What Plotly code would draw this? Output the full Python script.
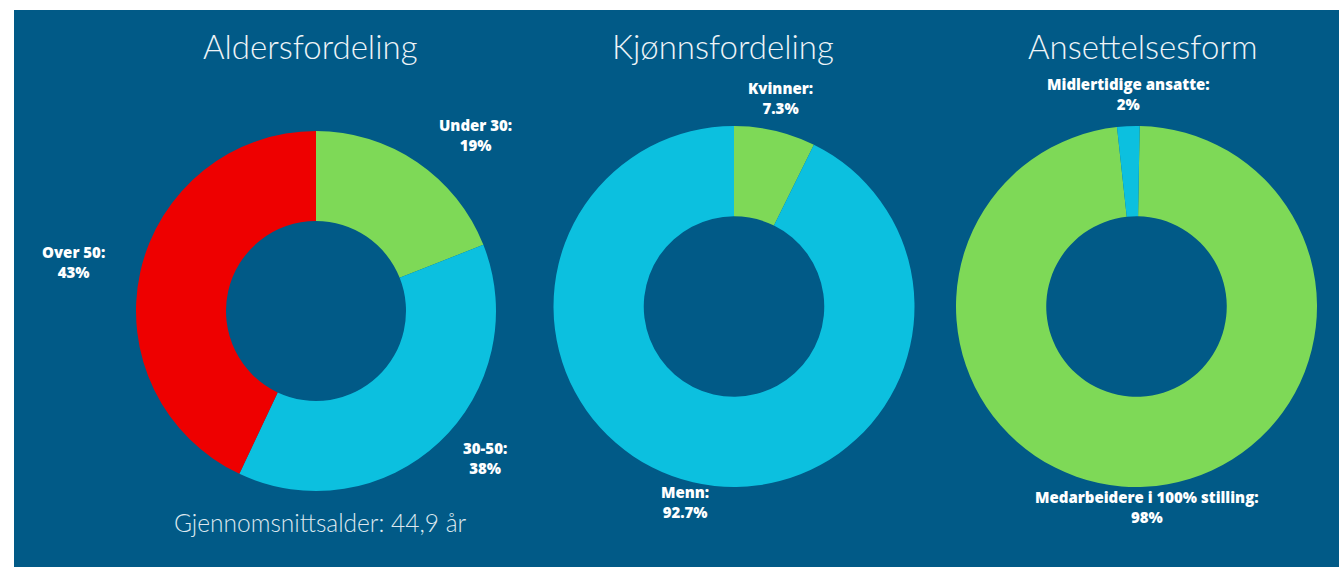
import plotly.graph_objects as go

W, H = 1339, 567

titles = ["Aldersfordeling", "Kjønnsfordeling", "Ansettelsesform"]

age_labels = ["Under 30", "30-50", "Over 50"]
age_values = [19, 38, 43]
age_colors = ["#7ed957", "#0cc0df", "#ee0000"]

gender_labels = ["Kvinner", "Menn"]
gender_values = [7.3, 92.7]
gender_colors = ["#7ed957", "#0cc0df"]

emp_labels = ["Medarbeidere i 100% stilling", "Midlertidige ansatte"]
emp_values = [98, 2]
emp_colors = ["#7ed957", "#0cc0df"]

avg_age_text = "Gjennomsnittsalder: 44,9 år"

BG = "#015a87"
TXT = "#ffffff"

def px_dom(cx, cy, r):
    return dict(x=[(cx - r) / W, (cx + r) / W], y=[1 - (cy + r) / H, 1 - (cy - r) / H])

fig = go.Figure()
pies = [
    (age_labels, age_values, age_colors, px_dom(316, 311, 180), 0),
    (gender_labels, gender_values, gender_colors, px_dom(734, 306.5, 180.5), 0),
    (emp_labels, emp_values, emp_colors, px_dom(1136.5, 306.5, 180.5), 1),
]
for labels, values, colors, dom, rot in pies:
    fig.add_trace(go.Pie(
        labels=labels, values=values, hole=0.5, sort=False, direction="clockwise",
        rotation=rot, marker=dict(colors=colors, line=dict(width=0)),
        textinfo="none", hoverinfo="label+percent", showlegend=False, domain=dom,
    ))

def fmt(v):
    return f"{v:g}%"

ann = []
title_pos = [(310, 46), (723, 46), (1143, 46)]
for t, (x, y) in zip(titles, title_pos):
    ann.append(dict(text=t, x=x / W, y=1 - y / H, xref="paper", yref="paper",
                    showarrow=False, xanchor="center", yanchor="middle",
                    font=dict(family="Lato", size=33, color="#eef4f8", weight=300)))

label_pos = [
    (age_labels[0], age_values[0], 475, 135),
    (age_labels[1], age_values[1], 485, 458),
    (age_labels[2], age_values[2], 73, 262),
    (gender_labels[0], gender_values[0], 780, 98),
    (gender_labels[1], gender_values[1], 685, 502),
    (emp_labels[1], emp_values[1], 1128, 94),
    (emp_labels[0], emp_values[0], 1147, 507),
]
for lab, val, x, y in label_pos:
    ann.append(dict(text=f"{lab}:<br>{fmt(val)}", x=x / W, y=1 - y / H, xref="paper", yref="paper",
                    showarrow=False, xanchor="center", yanchor="middle", align="center",
                    font=dict(family="Open Sans", size=15, color=TXT, weight=800)))

ann.append(dict(text=avg_age_text, x=320 / W, y=1 - 522 / H, xref="paper", yref="paper",
                showarrow=False, xanchor="center", yanchor="middle",
                font=dict(family="Lato", size=24.5, color="#dde8ef", weight=300)))

fig.update_layout(
    width=W, height=H, margin=dict(l=0, r=0, t=0, b=0),
    paper_bgcolor="white", plot_bgcolor="white",
    shapes=[dict(type="rect", xref="paper", yref="paper", x0=14 / W, x1=1, y0=0, y1=1 - 10 / H,
                 fillcolor=BG, line=dict(width=0), layer="below")],
    annotations=ann,
)
fig.write_html("out.html", config={"displayModeBar": False},
               post_script="document.body.style.margin='0';document.body.style.overflow='hidden';")
